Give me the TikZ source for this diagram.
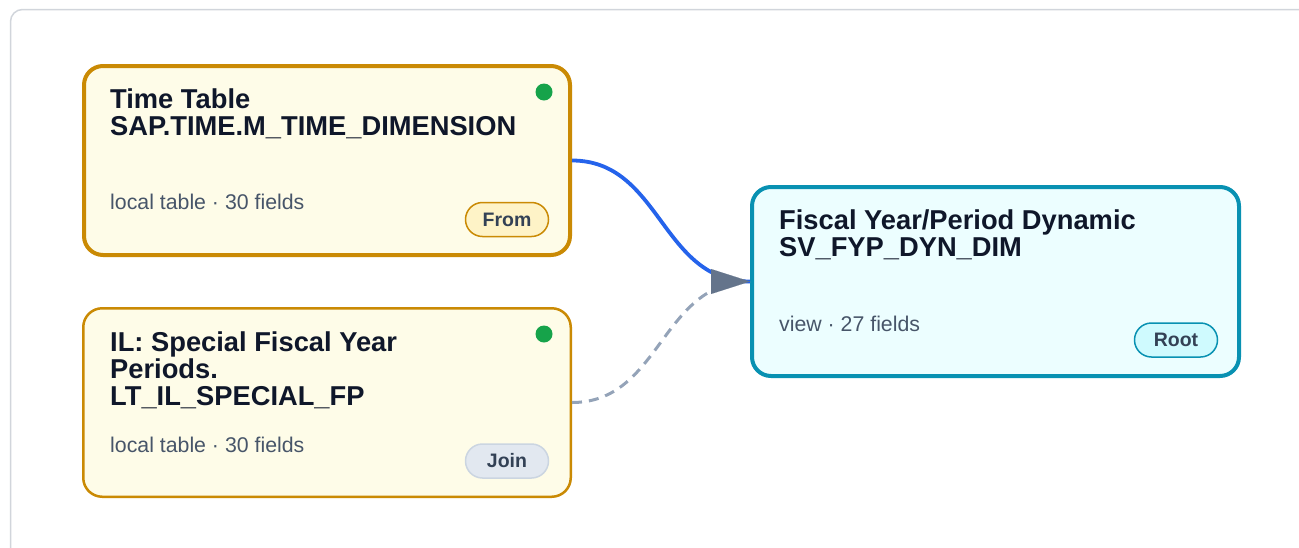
\documentclass[tikz,border=0pt]{standalone}
\usepackage{fontspec}
\setmainfont{Liberation Sans}
\usetikzlibrary{arrows.meta}
\definecolor{framec}{HTML}{D1D5DB}
\definecolor{amberc}{HTML}{CA8A04}
\definecolor{amberfill}{HTML}{FEFCE8}
\definecolor{amberbadge}{HTML}{FEF3C7}
\definecolor{cyanc}{HTML}{0891B2}
\definecolor{cyanfill}{HTML}{ECFEFF}
\definecolor{cyanbadge}{HTML}{CFFAFE}
\definecolor{slatebadge}{HTML}{E2E8F0}
\definecolor{slateborder}{HTML}{CBD5E1}
\definecolor{titlec}{HTML}{0F172A}
\definecolor{subc}{HTML}{475569}
\definecolor{badgetext}{HTML}{334155}
\definecolor{dotc}{HTML}{16A34A}
\definecolor{edgeblue}{HTML}{2563EB}
\definecolor{edgegray}{HTML}{94A3B8}
\definecolor{arrowc}{HTML}{64748B}
\tikzset{
  card/.style={rectangle, rounded corners=19pt, inner sep=0pt},
  tablecard/.style={card, draw=amberc, fill=amberfill},
  viewcard/.style={card, draw=cyanc, fill=cyanfill, line width=4pt, minimum width=487pt, minimum height=189pt},
  titletext/.style={anchor=base west, inner sep=0pt, text=titlec, font=\fontsize{27.3}{27}\selectfont\bfseries},
  subtext/.style={anchor=base west, inner sep=0pt, text=subc, font=\fontsize{21.3}{24}\selectfont},
  badge/.style={rectangle, rounded corners=17pt, minimum width=83pt, minimum height=34pt, inner sep=0pt, line width=1.5pt, text=badgetext, font=\fontsize{19.5}{20}\selectfont\bfseries},
  statusdot/.style={circle, fill=dotc, minimum size=17pt, inner sep=0pt},
  tipx/.style={-{Triangle[length=39pt,width=25pt,color=arrowc,fill=arrowc]}},
}
\begin{document}
\begin{tikzpicture}[x=1pt,y=-1pt]
\useasboundingbox (0,0) rectangle (1299,547);
\begin{scope}
\clip (0,0) rectangle (1299,547);
\draw[framec, line width=1.5pt, rounded corners=12pt] (10.5,9.5) rectangle (1330,580);
\end{scope}
% nodes
\node[tablecard, line width=4pt, minimum width=486pt, minimum height=189pt] (t1) at (327,160.5) {};
\node[tablecard, line width=2.5pt, minimum width=487.5pt, minimum height=188.5pt] (t2) at (327,402.5) {};
\node[viewcard] (t3) at (995.5,281.5) {};
\coordinate (tipstart) at ([xshift=-1pt]t3.west);
% edges
\draw[edgegray, line width=3pt, dash pattern=on 10pt off 7pt] (t2.east) .. controls (661,402.5) and (661,281.5) .. (t3.west);
\draw[edgeblue, line width=3.8pt] (t1.east) .. controls (661,160.5) and (661,281.5) .. (t3.west);
\draw[arrowc, line width=0.1pt, tipx] (tipstart) -- (t3.west);
% texts node 1
\node[titletext] (t1a) at (110,108) {Time Table};
\node[titletext] (t1b) at (110,135) {SAP.TIME.M\_TIME\_DIMENSION};
\node[subtext] (t1s) at (110,209) {local table · 30 fields};
\node[badge, draw=amberc, fill=amberbadge] (t1badge) at (507,219.5) {From};
\node[statusdot] (t1dot) at (544,92) {};
% texts node 2
\node[titletext] (t2a) at (110,351) {IL: Special Fiscal Year};
\node[titletext] (t2b) at (110,378) {Periods.};
\node[titletext] (t2c) at (110,405) {LT\_IL\_SPECIAL\_FP};
\node[subtext] (t2s) at (110,452) {local table · 30 fields};
\node[badge, draw=slateborder, fill=slatebadge] (t2badge) at (507,461) {Join};
\node[statusdot] (t2dot) at (544,334) {};
% texts node 3
\node[titletext] (t3a) at (779,229) {Fiscal Year/Period Dynamic};
\node[titletext] (t3b) at (779,256) {SV\_FYP\_DYN\_DIM};
\node[subtext] (t3s) at (779,331) {view · 27 fields};
\node[badge, draw=cyanc, fill=cyanbadge] (t3badge) at (1176,340) {Root};
\end{tikzpicture}
\end{document}
